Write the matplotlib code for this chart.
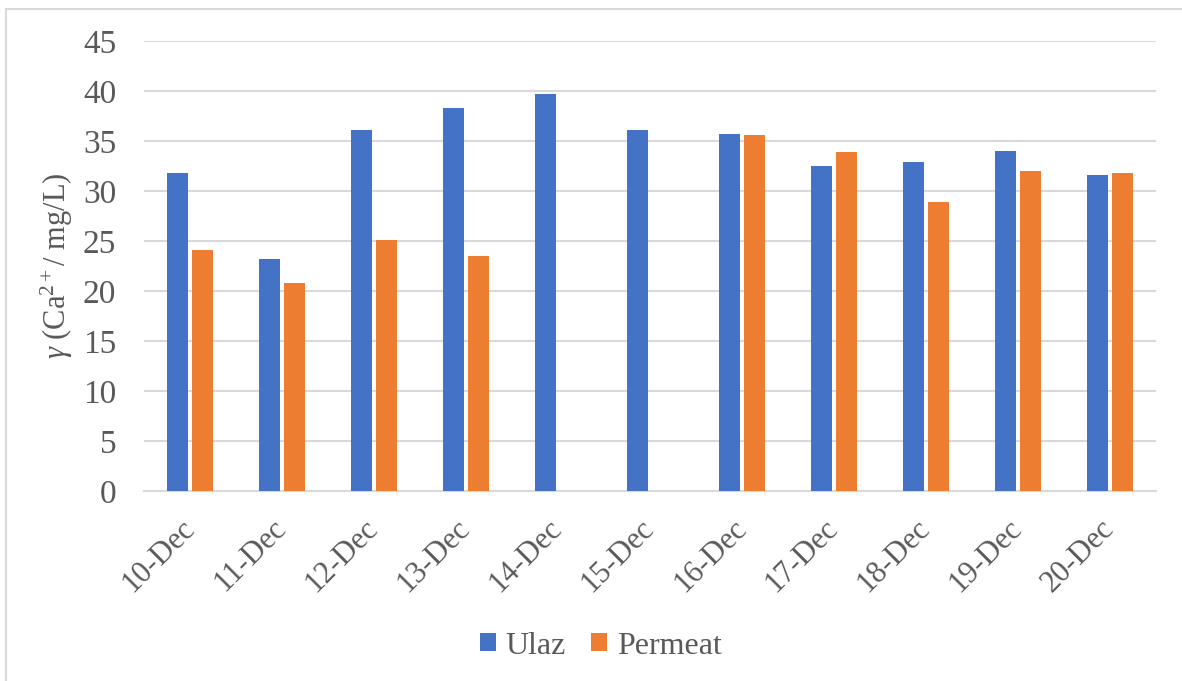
import numpy as np
import matplotlib
matplotlib.use('Agg')
import matplotlib.pyplot as plt
from matplotlib.lines import Line2D

plt.rcParams['font.family'] = ['Liberation Serif', 'DejaVu Serif']
plt.rcParams['mathtext.fontset'] = 'custom'
plt.rcParams['mathtext.rm'] = 'Liberation Serif'
plt.rcParams['mathtext.it'] = 'Liberation Serif:italic'

days = ['10-Dec', '11-Dec', '12-Dec', '13-Dec', '14-Dec', '15-Dec',
        '16-Dec', '17-Dec', '18-Dec', '19-Dec', '20-Dec']
ulaz = [31.8, 23.2, 36.1, 38.3, 39.7, 36.1, 35.7, 32.5, 32.9, 34.0, 31.6]
permeat = [24.1, 20.8, 25.1, 23.5, np.nan, np.nan, 35.6, 33.9, 28.9, 32.0, 31.8]

blue = '#4472C4'
orange = '#ED7D31'
grey = '#595959'

W, H = 1182, 681
fig = plt.figure(figsize=(W / 100, H / 100), dpi=100)
left, right, top, bottom = 144, 1156, 41, 491
ax = fig.add_axes([left / W, 1 - bottom / H, (right - left) / W, (bottom - top) / H])

x = np.arange(len(days))
w = 0.228
off = 0.141
ax.bar(x - off, ulaz, w, color=blue, label='Ulaz', zorder=3)
ax.bar(x + off, permeat, w, color=orange, label='Permeat', zorder=3)

ax.set_xlim(-0.5, len(days) - 0.5)
ax.set_ylim(0, 45)
ax.set_yticks(range(0, 46, 5))
ax.yaxis.grid(True, color='#D9D9D9', linewidth=1.5, zorder=0)
ax.set_axisbelow(True)
for s in ['top', 'right', 'left']:
    ax.spines[s].set_visible(False)
ax.spines['bottom'].set_color('#D9D9D9')
ax.spines['bottom'].set_linewidth(1.5)
ax.tick_params(axis='y', length=0, labelsize=24, colors=grey, pad=20)
ax.tick_params(axis='x', length=0, labelsize=22, colors=grey, pad=24)
ax.set_xticks(x)
ax.set_xticklabels(days, rotation=45, ha='right', va='center', rotation_mode='anchor')

ax.set_ylabel(r'$\gamma$ (Ca$^{2+}$/ mg/L)', fontsize=22, color=grey)
ax.yaxis.set_label_coords((75 - left) / (right - left), 0.5)

fig.legend(loc='center', bbox_to_anchor=(601 / W, 1 - 646 / H), ncol=2,
           frameon=False, fontsize=23, labelcolor=grey, handlelength=0.5,
           handleheight=0.5, handletextpad=0.3, columnspacing=0.8)

# chart area border
fig.add_artist(Line2D([6 / W, 6 / W], [0, 1 - 9 / H], color='#D9D9D9', lw=1.5))
fig.add_artist(Line2D([6 / W, 1], [1 - 9 / H, 1 - 9 / H], color='#D9D9D9', lw=1.5))

fig.savefig('out.png', dpi=100)
